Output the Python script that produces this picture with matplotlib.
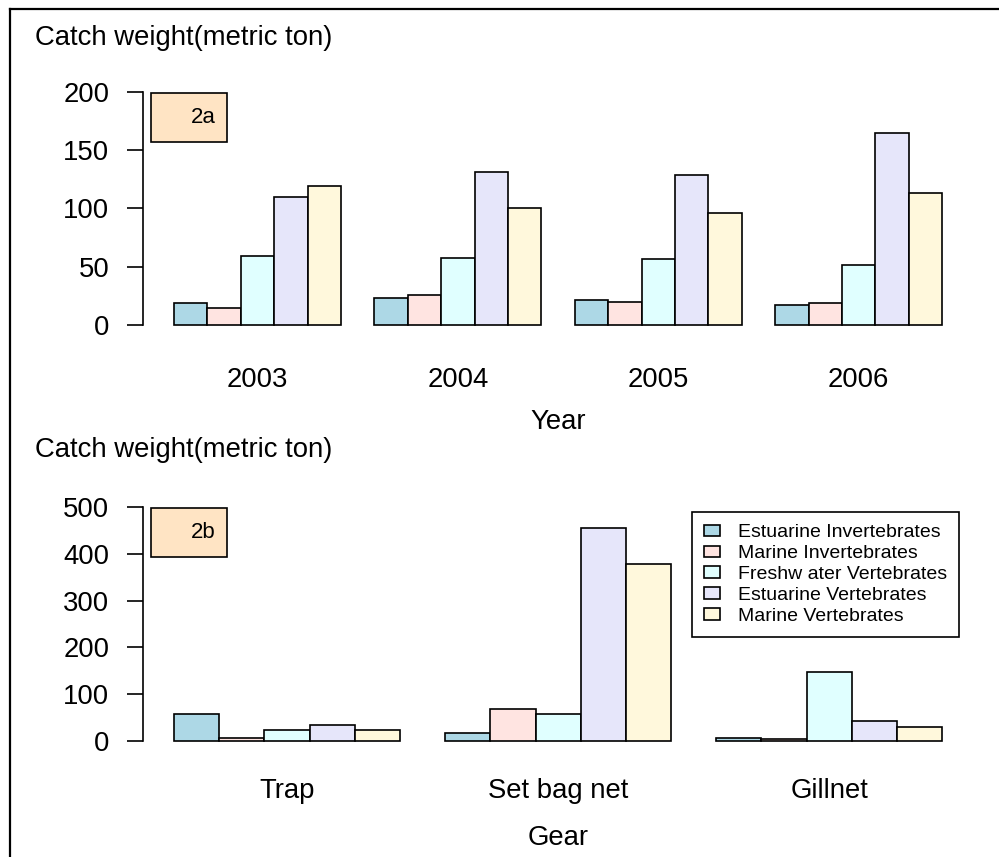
import matplotlib
matplotlib.use("Agg")
import matplotlib.pyplot as plt
from matplotlib.patches import Rectangle
from matplotlib.lines import Line2D

plt.rcParams['font.family'] = ['Liberation Sans', 'DejaVu Sans']

# catch weight (metric ton) by year
years = ['2003', '2004', '2005', '2006']
est_inv_year = [18.6, 22.9, 21.1, 17.1]
mar_inv_year = [14.3, 25.4, 20.0, 18.9]
fw_vert_year = [59.4, 57.7, 56.6, 51.1]
est_vert_year = [109.4, 131.1, 128.3, 164.8]
mar_vert_year = [118.9, 100.0, 96.0, 113.1]

# catch weight (metric ton) by gear
gears = ['Trap', 'Set bag net', 'Gillnet']
est_inv_gear = [56.6, 15.7, 5.0]
mar_inv_gear = [6.0, 67.2, 4.0]
fw_vert_gear = [23.0, 56.6, 147.8]
est_vert_gear = [33.0, 456.0, 42.9]
mar_vert_gear = [23.0, 377.6, 29.4]

taxa = ['Estuarine Invertebrates', 'Marine Invertebrates', 'Freshw ater Vertebrates',
        'Estuarine Vertebrates', 'Marine Vertebrates']
colors = ['lightblue', 'mistyrose', 'lightcyan', 'lavender', 'cornsilk']

FS = 19.8
FS_LEG = 14
FS_TAG = 16

W, H = 999, 857
fig = plt.figure(figsize=(W / 100, H / 100), dpi=100)


def px_axes(left, top, right, bottom):
    return fig.add_axes([left / W, 1 - bottom / H, (right - left) / W, (bottom - top) / H])


def draw_panel(ax, labels, series, ymax, step, tag, tick_pad, xlab, xlab_y):
    n = len(labels)
    nb = len(series)
    for k, vals in enumerate(series):
        xs = [g * (nb + 1) + 1 + k for g in range(n)]
        ax.bar(xs, vals, width=1, align='edge', color=colors[k],
               edgecolor='black', linewidth=1.2, label=taxa[k])
    right = n * (nb + 1)
    ext = 0.04 * (right - 1)
    ax.set_xlim(1 - ext, right + ext)
    ax.set_ylim(-0.04 * ymax, 1.04 * ymax)

    centers = [g * (nb + 1) + 1 + nb / 2 for g in range(n)]
    ax.set_xticks(centers, labels)
    ax.tick_params(axis='x', length=0, pad=tick_pad, labelsize=FS)
    ax.set_yticks(range(0, ymax + 1, step))
    ax.tick_params(axis='y', length=11.5, width=1.2, pad=13, labelsize=FS)

    for s in ['top', 'right', 'bottom']:
        ax.spines[s].set_visible(False)
    ax.spines['left'].set_bounds(0, ymax)
    ax.spines['left'].set_linewidth(1.2)
    ax.set_facecolor('none')

    ax.set_xlabel(xlab, fontsize=FS, va='center')
    ax.xaxis.set_label_coords(0.5, xlab_y)

    # panel tag box
    ax.add_patch(Rectangle((0.0094, 0.765), 0.0912, 0.194, transform=ax.transAxes,
                           facecolor='bisque', edgecolor='black', linewidth=1.2,
                           clip_on=False))
    ax.text(0.0727, 0.862, tag, transform=ax.transAxes, ha='center', va='center',
            fontsize=FS_TAG)


ax1 = px_axes(143.2, 82.4, 973, 334.3)
draw_panel(ax1, years,
           [est_inv_year, mar_inv_year, fw_vert_year, est_vert_year, mar_vert_year],
           200, 50, '2a', 23.6, 'Year', -0.348)

ax2 = px_axes(143.2, 498, 973, 750)
draw_panel(ax2, gears,
           [est_inv_gear, mar_inv_gear, fw_vert_gear, est_vert_gear, mar_vert_gear],
           500, 100, '2b', 19.8, 'Gear', -0.349)

leg = ax2.legend(loc='upper left', bbox_to_anchor=(0.661, 0.946), borderaxespad=0,
                 fontsize=FS_LEG, frameon=True, fancybox=False, framealpha=1,
                 edgecolor='black', handlelength=0.78, handleheight=0.52,
                 handletextpad=0.93, labelspacing=0.2, borderpad=0.65)
leg.get_frame().set_linewidth(1.2)

fig.text(35 / W, 1 - 45 / H, 'Catch weight(metric ton)', fontsize=FS, va='baseline')
fig.text(35 / W, 1 - 457 / H, 'Catch weight(metric ton)', fontsize=FS, va='baseline')

# outer frame (top and left edges)
fig.add_artist(Line2D([9.5 / W, 1], [1 - 8.5 / H, 1 - 8.5 / H], color='black', linewidth=1.6))
fig.add_artist(Line2D([9.5 / W, 9.5 / W], [0, 1 - 8.5 / H], color='black', linewidth=1.6))

fig.savefig('out.png', dpi=100, facecolor='white')
